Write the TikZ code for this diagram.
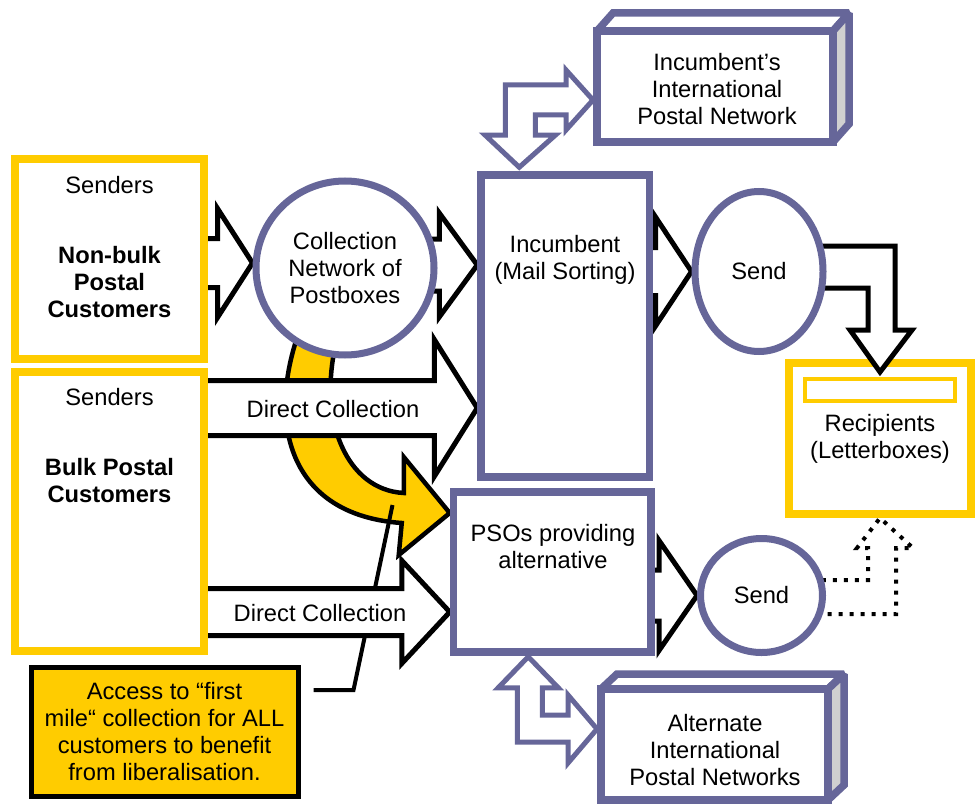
\documentclass[tikz,border=0pt]{standalone}
\usepackage{fontspec}
\setmainfont{Liberation Sans}
\usetikzlibrary{calc,shapes.geometric}
\definecolor{netpurple}{RGB}{102,102,153}
\definecolor{postyellow}{RGB}{255,204,0}
\definecolor{sidegray}{RGB}{208,208,208}
\pgfdeclarelayer{back}
\pgfdeclarelayer{mid}
\pgfsetlayers{back,mid,main}

\tikzset{
  basefont/.style={font=\fontsize{23.7}{27}\selectfont},
  boldfont/.style={font=\fontsize{23.7}{27}\selectfont\bfseries},
  senderbox/.style={rectangle, draw=postyellow, line width=8pt, fill=white, inner sep=0pt, align=center},
  hubbox/.style={rectangle, draw=netpurple, line width=7.5pt, fill=white, inner sep=0pt},
  oval/.style={ellipse, draw=netpurple, line width=7pt, fill=white, inner sep=0pt, align=center},
  netfront/.style={rectangle, draw=netpurple, line width=7.5pt, fill=white, inner sep=0pt, outer sep=0pt},
  netface/.style={draw=netpurple, line width=7.5pt, line join=miter, miter limit=1.5},
  txt/.style={inner sep=0pt, align=center},
  blockarrow/.style={draw=black, line width=5pt, fill=white, line join=miter},
  netarrow/.style={draw=netpurple, line width=5pt, fill=white, line join=miter},
  dotarrow/.style={draw=black, line width=4pt, dash pattern=on 4pt off 7pt, line join=miter},
  curvearrow/.style={draw=black, line width=4.5pt, fill=postyellow, line join=miter},
  pointer/.style={draw=black, line width=4pt, line join=miter},
  notebox/.style={rectangle, draw=black, line width=5pt, fill=postyellow, inner sep=0pt, align=center},
}

% straight block arrow: tail point, tip point, shaft half-width, head half-width, head length
\newcommand\flowarrow[5]{%
  \path[blockarrow] let \p1=(#1), \p2=(#2) in
    (\x1,{\y2+#3pt}) -- ({\x2-#5pt},{\y2+#3pt}) -- ({\x2-#5pt},{\y2+#4pt}) -- (\x2,\y2)
    -- ({\x2-#5pt},{\y2-#4pt}) -- ({\x2-#5pt},{\y2-#3pt}) -- (\x1,{\y2-#3pt}) -- cycle;}

\begin{document}
\begin{tikzpicture}[x=1pt, y=-1pt, basefont]
\useasboundingbox (0,0) rectangle (976,805);

% ---- senders ----
\node[senderbox, minimum width=189pt, minimum height=200pt] (nonbulk) at (109.5,259) {};
\node[txt] (nonbulkS) at (109.5,185) {Senders};
\node[txt, boldfont] (nonbulkT) at (109.5,282.5) {Non-bulk\\Postal\\Customers};

\node[senderbox, minimum width=189pt, minimum height=279pt] (bulk) at (109.5,511.5) {};
\node[txt] (bulkS) at (109.5,397) {Senders};
\node[txt, boldfont] (bulkT) at (109.5,481) {Bulk Postal\\Customers};

% ---- collection and sorting ----
\node[oval, minimum width=178pt, minimum height=174pt] (coll) at (345,268) {Collection\\Network of\\Postboxes};

\node[hubbox, minimum width=168.5pt, minimum height=302pt] (inc) at (565.25,326) {};
\node[txt] (incT) at (565,259.5) {Incumbent\\(Mail Sorting)};

\node[hubbox, minimum width=197.5pt, minimum height=160pt] (pso) at (552.25,572) {};
\node[txt] (psoT) at (553,546.5) {PSOs providing\\alternative};

% ---- delivery ----
\node[oval, minimum width=128pt, minimum height=160pt] (sendA) at (759,271.5) {Send};
\node[oval, minimum width=122pt, minimum height=114pt] (sendB) at (761.5,595.5) {Send};

% ---- international networks (boxes with depth) ----
\node[netfront, minimum width=236pt, minimum height=111pt] (intl) at (715,86.5) {};
\node[txt] (intlT) at (717,89) {Incumbent’s\\International\\Postal Network};

\node[netfront, minimum width=227pt, minimum height=111pt] (altn) at (714.5,744.5) {};
\node[txt] (altnT) at (715,750) {Alternate\\International\\Postal Networks};

% ---- note ----
\node[notebox, minimum width=267pt, minimum height=129pt] (note) at (164.5,731.5)
  {Access to “first\\mile“ collection for ALL\\customers to benefit\\from liberalisation.};

\node[txt] (dcA) at (333,409) {Direct Collection};
\node[txt] (dcB) at (320,613) {Direct Collection};

\begin{pgfonlayer}{mid}
  % recipients
  \node[senderbox, minimum width=182pt, minimum height=151pt] (recip) at (880,438.5) {Recipients\\(Letterboxes)};
  \node[rectangle, draw=postyellow, line width=4pt, minimum width=150pt, minimum height=22pt, inner sep=0pt] (slot) at (880,390) {};

  % depth faces
  \path[netface, fill=white] (intl.north west) -- ++(16,-18) -- ($(intl.north east)+(16,-18)$) -- (intl.north east) -- cycle;
  \path[netface, fill=sidegray] (intl.north east) -- ++(16,-18) -- ($(intl.south east)+(16,-18)$) -- (intl.south east) -- cycle;
  \path[netface, fill=white] (altn.north west) -- ++(16,-15) -- ($(altn.north east)+(16,-15)$) -- (altn.north east) -- cycle;
  \path[netface, fill=sidegray] (altn.north east) -- ++(16,-15) -- ($(altn.south east)+(16,-15)$) -- (altn.south east) -- cycle;

  % straight flows
  \flowarrow{nonbulk.center}{$(coll.west)+(0,-5)$}{24.5}{54.5}{35}
  \flowarrow{coll.center}{$(inc.west |- coll.center)+(0,-3)$}{26}{52}{38}
  \flowarrow{bulk.center}{inc.west |- 0,408}{27.5}{68.5}{43}
  \flowarrow{bulk.center}{pso.west |- 0,612}{23.5}{51.5}{48}
  \flowarrow{inc.center}{sendA.west}{24}{54.5}{36}
  \flowarrow{pso.center}{sendB.west}{25.5}{55}{38}

  % bent flow into the letterboxes
  \coordinate (gT) at ($(recip.north)+(0,13)$);
  \path[blockarrow] ($(sendA.center)+(0,-25.5)$) -| ($(gT)+(15,-42)$) -- ++(17,0) -- (gT)
    -- ++(-30,-42) -- ++(18,0) |- ($(sendA.center)+(0,16.5)$) -- cycle;

  % dotted alternative delivery
  \draw[dotarrow] ($(sendB.center)+(0,18.5)$) -| ($(recip.south)+(16,30)$) -- ++(17,0) -- (recip.south)
    -- ++(-23,30) -- ++(11,0) |- ($(sendB.center)+(0,-15.5)$);

  % exchanges with the international networks
  \coordinate (iR) at ($(intl.west |- 0,100)+(-4,0)$);
  \coordinate (iD) at ($(inc.north)+(-46,-4)$);
  \path[netarrow] (iR) -- ++(-27,-30) -- ++(0,15) -| ($(iD)+(-14,-32)$) -- ++(-20,0) -- (iD)
    -- ++(36,-32) -- ++(-20,0) |- ($(iR)+(-27,15)$) -- ++(0,15) -- cycle;

  \coordinate (jU) at ($(pso.south)+(-24,1)$);
  \coordinate (jR) at ($(altn.west)+(-4,-15.5)$);
  \path[netarrow] (jU) -- ++(30,31) -- ++(-16,0) |- ($(jR)+(-29,-14)$) -- ++(0,-20) -- (jR)
    -- ++(-29,34) -- ++(0,-21) -| ($(jU)+(-11,31)$) -- ++(-19,0) -- cycle;
\end{pgfonlayer}

\begin{pgfonlayer}{back}
  \fill[white] (0,0) rectangle (976,805);
  % curved flow from the postboxes to the alternative operators
  \coordinate (yT) at (pso.west |- 0,513);
  \path[curvearrow] (yT) -- ++(-46,-56) -- ++(0,36)
    .. controls +(-57,-3) and +(-20,80) .. ++(-67,-153) -- ++(-37,-10)
    .. controls +(-33,90) and +(-115,-8) .. ++(102,193) -- ++(-3,32) -- cycle;
  % pointer from the note
  \draw[pointer] ($(note.north east)+(13,25.5)$) -- ++(40,0) -- ++(39,-185);
\end{pgfonlayer}
\end{tikzpicture}
\end{document}
